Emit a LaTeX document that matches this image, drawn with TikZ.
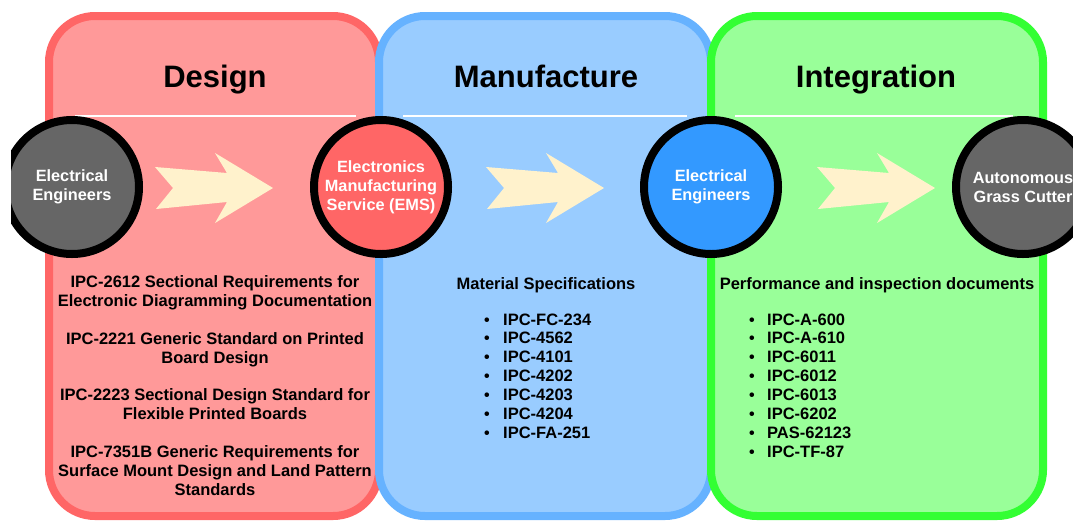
\documentclass[tikz,border=0pt]{standalone}
\usepackage{fontspec}
\setmainfont{Liberation Sans}
\definecolor{redline}{HTML}{FF6666}
\definecolor{redfill}{HTML}{FF9999}
\definecolor{blueline}{HTML}{66B2FF}
\definecolor{bluefill}{HTML}{99CCFF}
\definecolor{greenline}{HTML}{33FF33}
\definecolor{greenfill}{HTML}{99FF99}
\definecolor{greycirc}{HTML}{666666}
\definecolor{redcirc}{HTML}{FF6666}
\definecolor{bluecirc}{HTML}{3399FF}
\definecolor{arrowfill}{HTML}{FFF2CC}
\begin{document}
\begin{tikzpicture}[x=1pt,y=-1pt,
  panel/.style={line width=8pt, rounded corners=46pt},
  sepline/.style={draw=white, line width=2pt},
  blockarrow/.style={fill=arrowfill},
  circ/.style={circle, draw=black, line width=8pt, minimum size=134pt, inner sep=0pt,
    text=white, align=center, font=\fontsize{16.3}{19}\selectfont\bfseries},
  title/.style={anchor=base, inner sep=0pt, font=\fontsize{31}{36}\selectfont\bfseries},
  body/.style={anchor=base, inner sep=0pt, font=\fontsize{16.5}{19}\selectfont\bfseries},
  item/.style={anchor=base west, inner sep=0pt, font=\fontsize{16.5}{19}\selectfont\bfseries},
  bul/.style={anchor=base, inner sep=0pt, font=\fontsize{16}{19}\selectfont\bfseries}
]
\useasboundingbox (0,0) rectangle (1073,523);
% panels
\draw[panel, draw=redline, fill=redfill] (49,16) rectangle (379,516);
\draw[panel, draw=blueline, fill=bluefill] (379,16) rectangle (711,516);
\draw[panel, draw=greenline, fill=greenfill] (711,16) rectangle (1043,516);
% separator lines
\draw[sepline] (75,116) -- (356,116);
\draw[sepline] (403,116) -- (687,116);
\draw[sepline] (735,116) -- (1013,116);
% block arrows
\foreach \dx in {0,331,662}{
  \fill[blockarrow, xshift=\dx pt] (155,167) -- (227,173) -- (215,153) -- (273,188)
     -- (215,223) -- (227,202) -- (156,209) -- (173,188) -- cycle;
}
% circles
\begin{scope}
\clip (11,0) rectangle (1073,523);
\node[circ, fill=greycirc] (c1) at (72,187) {Electrical\\Engineers};
\end{scope}
\node[circ, fill=redcirc] (c2) at (381,187) {Electronics\\Manufacturing\\Service (EMS)};
\node[circ, fill=bluecirc] (c3) at (711,187) {Electrical\\Engineers};
\node[circ, fill=greycirc] (c4) at (1023,187) {Autonomous\\Grass Cutter};
% titles
\node[title] (t1) at (215,87) {Design};
\node[title] (t2) at (546,87) {Manufacture};
\node[title] (t3) at (876,87) {Integration};
% design text
\node[body] (d1) at (215,287) {IPC-2612 Sectional Requirements for};
\node[body] (d2) at (215,306) {Electronic Diagramming Documentation};
\node[body] (d3) at (215,344) {IPC-2221 Generic Standard on Printed};
\node[body] (d4) at (215,363) {Board Design};
\node[body] (d5) at (215,400) {IPC-2223 Sectional Design Standard for};
\node[body] (d6) at (215,419) {Flexible Printed Boards};
\node[body] (d7) at (215,457) {IPC-7351B Generic Requirements for};
\node[body] (d8) at (215,476) {Surface Mount Design and Land Pattern};
\node[body] (d9) at (215,495) {Standards};
% manufacture text
\node[body] (m0) at (546,289) {Material Specifications};
\foreach \t [count=\i] in {IPC-FC-234,IPC-4562,IPC-4101,IPC-4202,IPC-4203,IPC-4204,IPC-FA-251}{
  \node[bul] (mb\i) at (487,{325+18.9*(\i-1)}) {•};
  \node[item] (m\i) at (503,{325+18.9*(\i-1)}) {\t};
}
% integration text
\node[body] (g0) at (877,289) {Performance and inspection documents};
\foreach \t [count=\i] in {IPC-A-600,IPC-A-610,IPC-6011,IPC-6012,IPC-6013,IPC-6202,PAS-62123,IPC-TF-87}{
  \node[bul] (gb\i) at (752,{325+18.9*(\i-1)}) {•};
  \node[item] (g\i) at (767,{325+18.9*(\i-1)}) {\t};
}
\end{tikzpicture}
\end{document}
